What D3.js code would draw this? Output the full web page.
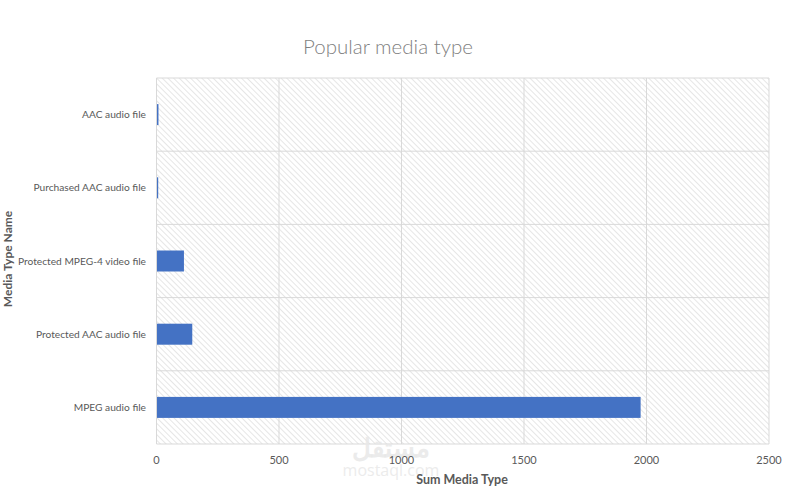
<!DOCTYPE html>
<html><head><meta charset="utf-8">
<script src="https://cdn.jsdelivr.net/npm/d3@7"></script>
<style>body{margin:0;background:#fff}svg{display:block}</style>
</head><body>
<svg id="c" width="786" height="489"></svg>
<script>
const categories = ["AAC audio file","Purchased AAC audio file","Protected MPEG-4 video file","Protected AAC audio file","MPEG audio file"];
const values = [8, 2, 112, 146, 1976];
const xTicks = [0, 500, 1000, 1500, 2000, 2500];
const title = "Popular media type";
const xTitle = "Sum Media Type";
const yTitle = "Media Type Name";

const svg = d3.select("#c");
const m = {l:156.5, r:769, t:78, b:444};
const font = "Lato, 'Open Sans', sans-serif";

const defs = svg.append("defs");
const pat = defs.append("pattern").attr("id","hatch").attr("patternUnits","userSpaceOnUse")
  .attr("width",4).attr("height",4).attr("patternTransform","rotate(45)");
pat.append("rect").attr("width",4).attr("height",4).attr("fill","#fff");
pat.append("line").attr("x1",0).attr("y1",0).attr("x2",4).attr("y2",0)
  .attr("stroke","#dcdcdc").attr("stroke-width",1.4);

const x = d3.scaleLinear().domain([0,2500]).range([m.l, m.r]);
const y = d3.scaleBand().domain(categories).range([m.t, m.b]).paddingInner(0).paddingOuter(0);

svg.append("rect").attr("x",m.l).attr("y",m.t).attr("width",m.r-m.l).attr("height",m.b-m.t)
  .attr("fill","url(#hatch)");

svg.append("g").selectAll("line").data(xTicks).join("line")
  .attr("x1",d=>x(d)).attr("x2",d=>x(d)).attr("y1",m.t).attr("y2",m.b)
  .attr("stroke","#d9d9d9").attr("stroke-width",1);
const bounds = categories.map(c=>y(c)).concat([m.b]);
svg.append("g").selectAll("line").data(bounds).join("line")
  .attr("x1",m.l).attr("x2",m.r).attr("y1",d=>d).attr("y2",d=>d)
  .attr("stroke","#d9d9d9").attr("stroke-width",1);

// watermark (behind labels)
svg.append("text").attr("x",391).attr("y",457).attr("text-anchor","middle")
  .attr("font-family","'Noto Sans', sans-serif").attr("font-size",26).attr("font-weight",700)
  .attr("fill","#e8e8e8").attr("fill-opacity",0.85).text("مستقل");
svg.append("text").attr("x",391).attr("y",476).attr("text-anchor","middle")
  .attr("font-family","'Open Sans', sans-serif").attr("font-size",16)
  .attr("fill","#e8e8e8").attr("fill-opacity",0.85).text("mostaql.com");

const bh = 21;
svg.append("g").selectAll("rect").data(categories).join("rect")
  .attr("x",x(0)+0.5).attr("y",(d)=>y(d)+y.bandwidth()/2-bh/2)
  .attr("width",(d,i)=>Math.max(1.2, x(values[i])-x(0)-0.5)).attr("height",bh)
  .attr("fill","#4472c4");

svg.append("g").selectAll("text").data(categories).join("text")
  .attr("x",146).attr("y",d=>y(d)+y.bandwidth()/2).attr("dy","0.35em")
  .attr("text-anchor","end").attr("font-family",font).attr("font-size",10.2)
  .attr("fill","#595959").text(d=>d);

svg.append("g").selectAll("text").data(xTicks).join("text")
  .attr("x",d=>x(d)).attr("y",464).attr("text-anchor","middle")
  .attr("font-family",font).attr("font-size",11).attr("fill","#595959").text(d=>d);

svg.append("text").attr("x",388).attr("y",54).attr("text-anchor","middle")
  .attr("font-family",font).attr("font-weight",300).attr("font-size",20.5)
  .attr("fill","#7f7f7f").text(title);
svg.append("text").attr("x",462).attr("y",484).attr("text-anchor","middle")
  .attr("font-family",font).attr("font-weight",700).attr("font-size",12.5)
  .attr("fill","#595959").text(xTitle);
svg.append("text").attr("transform","translate(12,259) rotate(-90)").attr("text-anchor","middle")
  .attr("font-family",font).attr("font-weight",700).attr("font-size",12)
  .attr("fill","#595959").text(yTitle);
</script>
</body></html>
